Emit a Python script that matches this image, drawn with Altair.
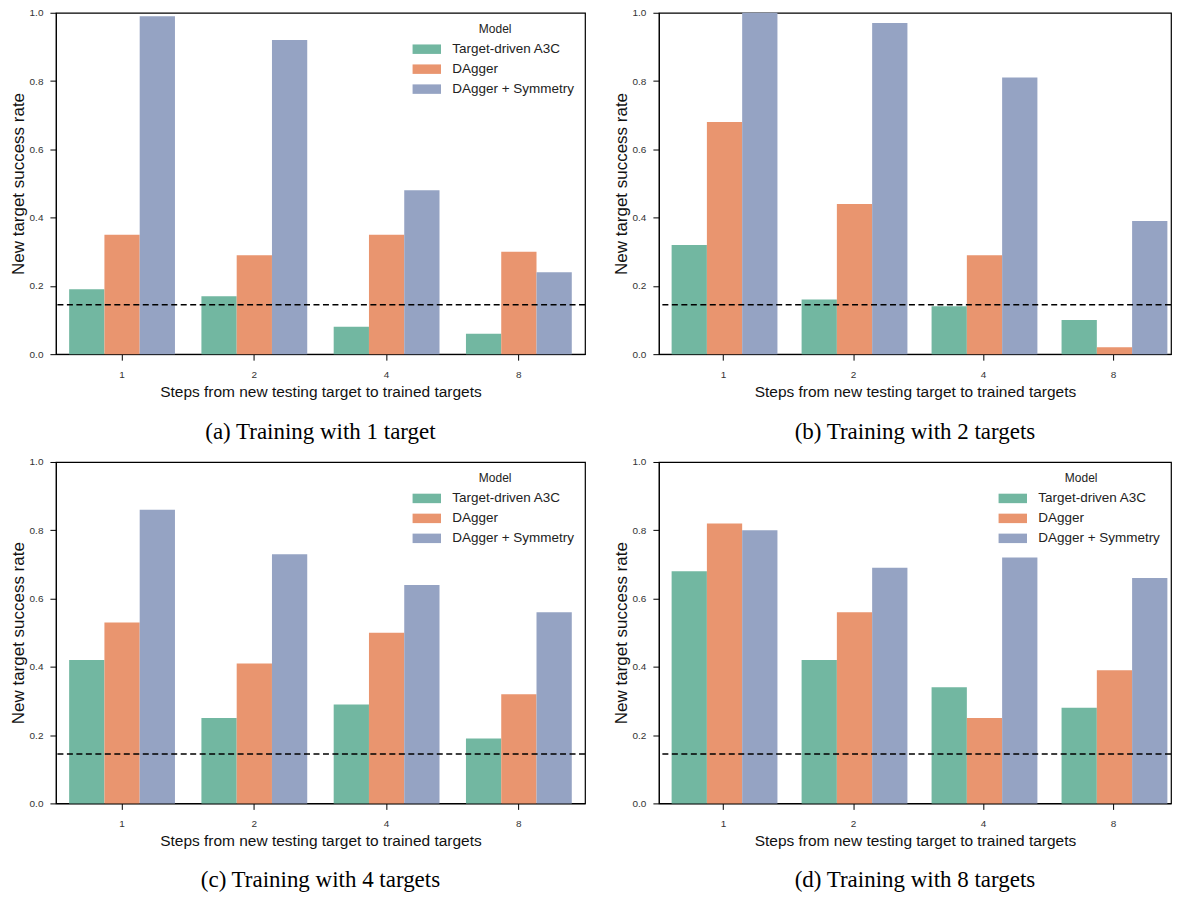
import altair as alt
import pandas as pd

steps = ["1", "2", "4", "8"]
models = ["Target-driven A3C", "DAgger", "DAgger + Symmetry"]
colors = ["#72b7a1", "#e9956f", "#95a3c3"]
baseline = 0.145

a_a3c = [0.19, 0.17, 0.08, 0.06]
a_dag = [0.35, 0.29, 0.35, 0.30]
a_sym = [0.99, 0.92, 0.48, 0.24]

b_a3c = [0.32, 0.16, 0.14, 0.10]
b_dag = [0.68, 0.44, 0.29, 0.02]
b_sym = [1.00, 0.97, 0.81, 0.39]

c_a3c = [0.42, 0.25, 0.29, 0.19]
c_dag = [0.53, 0.41, 0.50, 0.32]
c_sym = [0.86, 0.73, 0.64, 0.56]

d_a3c = [0.68, 0.42, 0.34, 0.28]
d_dag = [0.82, 0.56, 0.25, 0.39]
d_sym = [0.80, 0.69, 0.72, 0.66]

captions = [
    "(a) Training with 1 target",
    "(b) Training with 2 targets",
    "(c) Training with 4 targets",
    "(d) Training with 8 targets",
]

RECT = "M-1.5,-0.5L1.5,-0.5L1.5,0.5L-1.5,0.5Z"


def panel(a3c, dag, sym, caption, legend, width, right, cap_offset):
    df = pd.DataFrame({
        "step": steps * 3,
        "model": [m for m in models for _ in steps],
        "rate": a3c + dag + sym,
    })
    if legend:
        leg = alt.Legend(
            title="Model", orient="top-right", offset=11,
            titleAnchor="middle", titleFontSize=12, titleFontWeight="normal",
            titleFont="Liberation Sans", titleColor="#222", titlePadding=4,
            labelFont="Liberation Sans", labelFontSize=13.5, labelColor="#222",
            symbolType=RECT, symbolSize=360, symbolStrokeWidth=0,
            symbolOpacity=1, rowPadding=4, labelOffset=16,
        )
    else:
        leg = None
    if right:
        xscale = alt.Scale(paddingInner=0.2, paddingOuter=0.07, align=0.7)
    else:
        xscale = alt.Scale(paddingInner=0.2, paddingOuter=0.1)
    bars = alt.Chart(df).mark_bar().encode(
        x=alt.X("step:O", sort=steps, scale=xscale,
                axis=alt.Axis(title="Steps from new testing target to trained targets",
                              labelAngle=0)),
        xOffset=alt.XOffset("model:N", sort=models,
                            scale=alt.Scale(paddingInner=0, paddingOuter=0)),
        y=alt.Y("rate:Q", scale=alt.Scale(domain=[0, 1], nice=False),
                axis=alt.Axis(title="New target success rate",
                              values=[0, 0.2, 0.4, 0.6, 0.8, 1.0], format=".1f")),
        color=alt.Color("model:N", sort=models,
                        scale=alt.Scale(domain=models, range=colors), legend=leg),
    )
    rule = alt.Chart(pd.DataFrame({"rate": [baseline]})).mark_rule(
        color="black", strokeDash=[6, 3.5], strokeWidth=1.5
    ).encode(y="rate:Q")
    return alt.layer(bars, rule).properties(
        width=width, height=342,
        title=alt.TitleParams(caption, orient="bottom", font="Liberation Serif",
                              fontSize=23, fontWeight="normal", color="black",
                              offset=cap_offset),
    )


pa = panel(a_a3c, a_dag, a_sym, captions[0], True, 530, False, 21)
pb = panel(b_a3c, b_dag, b_sym, captions[1], False, 513, True, 21)
pc = panel(c_a3c, c_dag, c_sym, captions[2], True, 530, False, 20)
pd_ = panel(d_a3c, d_dag, d_sym, captions[3], True, 513, True, 20)

top = alt.hconcat(pa, pb, spacing=24).resolve_legend(color="independent")
bottom = alt.hconcat(pc, pd_, spacing=24).resolve_legend(color="independent")

chart = alt.vconcat(top, bottom, spacing=11).resolve_legend(
    color="independent"
).properties(
    padding={"left": 0, "top": -2, "right": 0, "bottom": 0}
).configure_view(
    stroke="black", strokeWidth=1.2
).configure_axis(
    labelFont="Liberation Sans", labelFontSize=10, labelColor="#333",
    titleFont="Liberation Sans", titleFontWeight="normal",
    titleColor="#111", domainColor="black", tickColor="black", tickSize=6,
    grid=False,
).configure_axisY(titlePadding=2, labelPadding=7, titleFontSize=17).configure_axisX(
    titlePadding=5, labelPadding=9, titleFontSize=15.5)

chart.save("out.html", embed_options={"renderer": "svg", "actions": False})
